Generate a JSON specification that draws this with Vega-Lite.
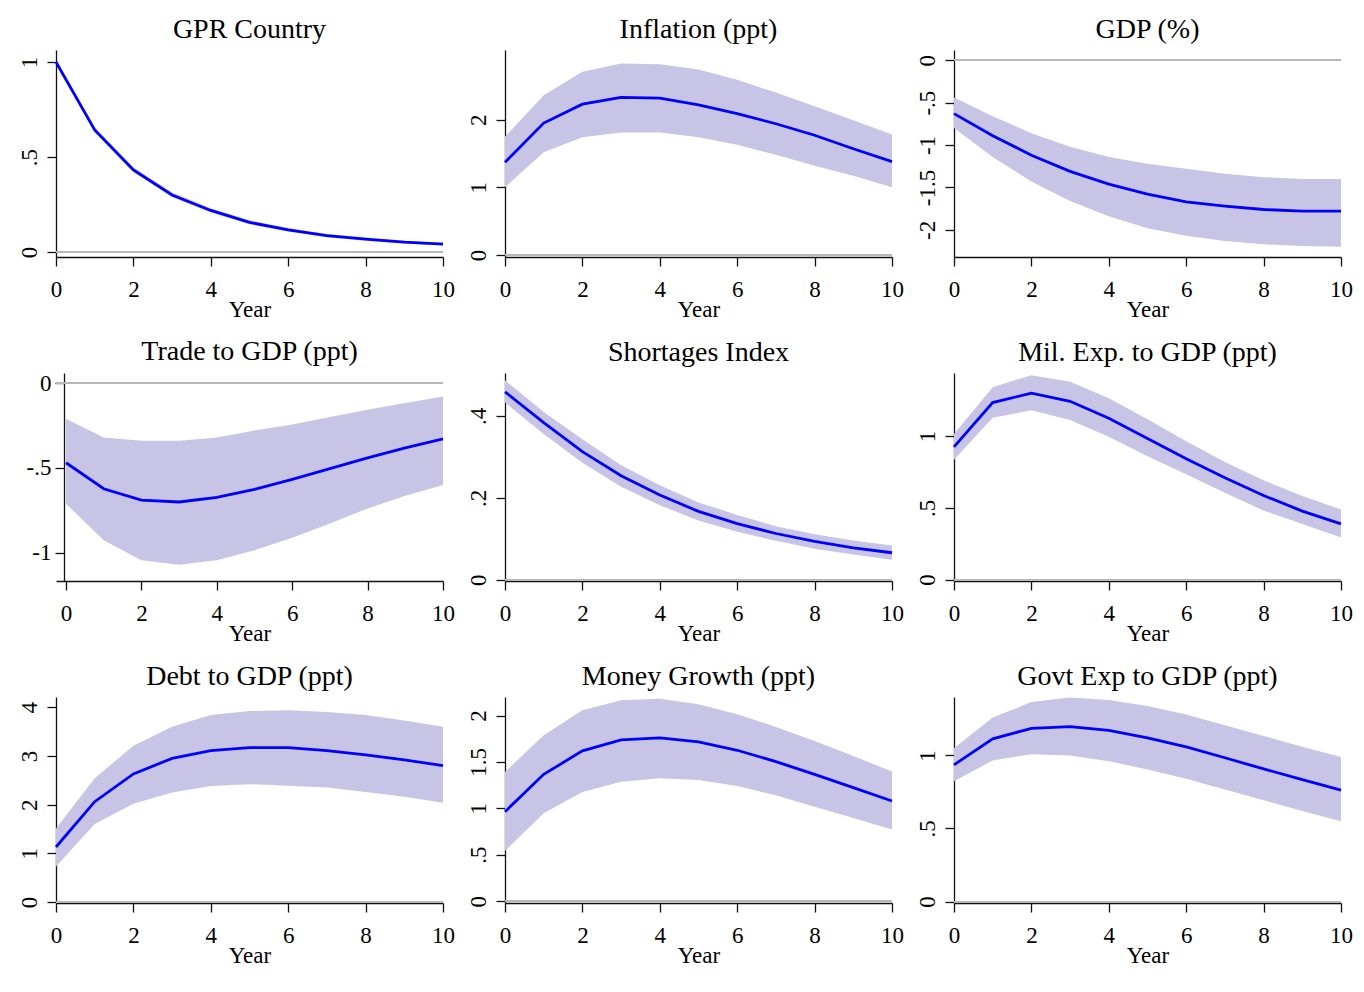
{
"$schema": "https://vega.github.io/schema/vega-lite/v6.json",
"padding": {"left": 18, "top": 16, "right": 5, "bottom": 5},
"background": "white",
"data": {"values": [
{"p":"gpr","year":0,"b":1.0,"lo":0.998,"hi":1.002},
{"p":"gpr","year":1,"b":0.642,"lo":0.630,"hi":0.655},
{"p":"gpr","year":2,"b":0.432,"lo":0.420,"hi":0.446},
{"p":"gpr","year":3,"b":0.300,"lo":0.289,"hi":0.313},
{"p":"gpr","year":4,"b":0.219,"lo":0.208,"hi":0.231},
{"p":"gpr","year":5,"b":0.156,"lo":0.146,"hi":0.167},
{"p":"gpr","year":6,"b":0.117,"lo":0.108,"hi":0.127},
{"p":"gpr","year":7,"b":0.086,"lo":0.078,"hi":0.095},
{"p":"gpr","year":8,"b":0.068,"lo":0.060,"hi":0.076},
{"p":"gpr","year":9,"b":0.052,"lo":0.045,"hi":0.060},
{"p":"gpr","year":10,"b":0.042,"lo":0.036,"hi":0.049},
{"p":"inf","year":0,"b":1.37,"lo":1.00,"hi":1.75},
{"p":"inf","year":1,"b":1.95,"lo":1.52,"hi":2.36},
{"p":"inf","year":2,"b":2.23,"lo":1.74,"hi":2.71},
{"p":"inf","year":3,"b":2.33,"lo":1.81,"hi":2.83},
{"p":"inf","year":4,"b":2.32,"lo":1.81,"hi":2.82},
{"p":"inf","year":5,"b":2.22,"lo":1.74,"hi":2.74},
{"p":"inf","year":6,"b":2.09,"lo":1.63,"hi":2.59},
{"p":"inf","year":7,"b":1.94,"lo":1.48,"hi":2.40},
{"p":"inf","year":8,"b":1.77,"lo":1.32,"hi":2.20},
{"p":"inf","year":9,"b":1.57,"lo":1.17,"hi":1.99},
{"p":"inf","year":10,"b":1.38,"lo":1.00,"hi":1.78},
{"p":"gdp","year":0,"b":-0.63,"lo":-0.80,"hi":-0.44},
{"p":"gdp","year":1,"b":-0.89,"lo":-1.14,"hi":-0.66},
{"p":"gdp","year":2,"b":-1.12,"lo":-1.43,"hi":-0.86},
{"p":"gdp","year":3,"b":-1.31,"lo":-1.66,"hi":-1.02},
{"p":"gdp","year":4,"b":-1.46,"lo":-1.84,"hi":-1.14},
{"p":"gdp","year":5,"b":-1.58,"lo":-1.98,"hi":-1.22},
{"p":"gdp","year":6,"b":-1.67,"lo":-2.07,"hi":-1.28},
{"p":"gdp","year":7,"b":-1.72,"lo":-2.13,"hi":-1.34},
{"p":"gdp","year":8,"b":-1.76,"lo":-2.17,"hi":-1.38},
{"p":"gdp","year":9,"b":-1.78,"lo":-2.19,"hi":-1.40},
{"p":"gdp","year":10,"b":-1.78,"lo":-2.20,"hi":-1.40},
{"p":"trd","year":0,"b":-0.469,"lo":-0.71,"hi":-0.21},
{"p":"trd","year":1,"b":-0.622,"lo":-0.925,"hi":-0.32},
{"p":"trd","year":2,"b":-0.689,"lo":-1.043,"hi":-0.34},
{"p":"trd","year":3,"b":-0.70,"lo":-1.07,"hi":-0.34},
{"p":"trd","year":4,"b":-0.673,"lo":-1.043,"hi":-0.32},
{"p":"trd","year":5,"b":-0.626,"lo":-0.984,"hi":-0.28},
{"p":"trd","year":6,"b":-0.567,"lo":-0.91,"hi":-0.244},
{"p":"trd","year":7,"b":-0.504,"lo":-0.827,"hi":-0.20},
{"p":"trd","year":8,"b":-0.441,"lo":-0.738,"hi":-0.157},
{"p":"trd","year":9,"b":-0.382,"lo":-0.663,"hi":-0.118},
{"p":"trd","year":10,"b":-0.329,"lo":-0.60,"hi":-0.079},
{"p":"sho","year":0,"b":0.459,"lo":0.433,"hi":0.487},
{"p":"sho","year":1,"b":0.384,"lo":0.356,"hi":0.41},
{"p":"sho","year":2,"b":0.313,"lo":0.286,"hi":0.343},
{"p":"sho","year":3,"b":0.254,"lo":0.227,"hi":0.28},
{"p":"sho","year":4,"b":0.207,"lo":0.182,"hi":0.231},
{"p":"sho","year":5,"b":0.167,"lo":0.145,"hi":0.189},
{"p":"sho","year":6,"b":0.137,"lo":0.117,"hi":0.158},
{"p":"sho","year":7,"b":0.113,"lo":0.095,"hi":0.131},
{"p":"sho","year":8,"b":0.094,"lo":0.076,"hi":0.111},
{"p":"sho","year":9,"b":0.078,"lo":0.062,"hi":0.096},
{"p":"sho","year":10,"b":0.066,"lo":0.049,"hi":0.084},
{"p":"mil","year":0,"b":0.925,"lo":0.836,"hi":1.014},
{"p":"mil","year":1,"b":1.234,"lo":1.128,"hi":1.341},
{"p":"mil","year":2,"b":1.30,"lo":1.18,"hi":1.425},
{"p":"mil","year":3,"b":1.243,"lo":1.112,"hi":1.379},
{"p":"mil","year":4,"b":1.124,"lo":0.995,"hi":1.264},
{"p":"mil","year":5,"b":0.984,"lo":0.86,"hi":1.117},
{"p":"mil","year":6,"b":0.843,"lo":0.734,"hi":0.965},
{"p":"mil","year":7,"b":0.71,"lo":0.605,"hi":0.82},
{"p":"mil","year":8,"b":0.586,"lo":0.481,"hi":0.692},
{"p":"mil","year":9,"b":0.477,"lo":0.388,"hi":0.582},
{"p":"mil","year":10,"b":0.388,"lo":0.294,"hi":0.488},
{"p":"dbt","year":0,"b":1.13,"lo":0.73,"hi":1.51},
{"p":"dbt","year":1,"b":2.06,"lo":1.60,"hi":2.54},
{"p":"dbt","year":2,"b":2.63,"lo":2.02,"hi":3.21},
{"p":"dbt","year":3,"b":2.95,"lo":2.25,"hi":3.60},
{"p":"dbt","year":4,"b":3.11,"lo":2.38,"hi":3.84},
{"p":"dbt","year":5,"b":3.17,"lo":2.42,"hi":3.92},
{"p":"dbt","year":6,"b":3.17,"lo":2.39,"hi":3.94},
{"p":"dbt","year":7,"b":3.11,"lo":2.35,"hi":3.90},
{"p":"dbt","year":8,"b":3.02,"lo":2.26,"hi":3.84},
{"p":"dbt","year":9,"b":2.92,"lo":2.16,"hi":3.73},
{"p":"dbt","year":10,"b":2.80,"lo":2.04,"hi":3.60},
{"p":"mon","year":0,"b":0.964,"lo":0.54,"hi":1.392},
{"p":"mon","year":1,"b":1.367,"lo":0.946,"hi":1.788},
{"p":"mon","year":2,"b":1.619,"lo":1.176,"hi":2.058},
{"p":"mon","year":3,"b":1.737,"lo":1.288,"hi":2.165},
{"p":"mon","year":4,"b":1.759,"lo":1.324,"hi":2.18},
{"p":"mon","year":5,"b":1.716,"lo":1.306,"hi":2.122},
{"p":"mon","year":6,"b":1.626,"lo":1.241,"hi":2.014},
{"p":"mon","year":7,"b":1.504,"lo":1.14,"hi":1.878},
{"p":"mon","year":8,"b":1.367,"lo":1.018,"hi":1.727},
{"p":"mon","year":9,"b":1.223,"lo":0.896,"hi":1.565},
{"p":"mon","year":10,"b":1.079,"lo":0.773,"hi":1.396},
{"p":"gov","year":0,"b":0.936,"lo":0.824,"hi":1.05},
{"p":"gov","year":1,"b":1.114,"lo":0.966,"hi":1.259},
{"p":"gov","year":2,"b":1.185,"lo":1.009,"hi":1.366},
{"p":"gov","year":3,"b":1.197,"lo":1.0,"hi":1.396},
{"p":"gov","year":4,"b":1.172,"lo":0.961,"hi":1.38},
{"p":"gov","year":5,"b":1.121,"lo":0.904,"hi":1.339},
{"p":"gov","year":6,"b":1.059,"lo":0.84,"hi":1.281},
{"p":"gov","year":7,"b":0.984,"lo":0.767,"hi":1.206},
{"p":"gov","year":8,"b":0.908,"lo":0.693,"hi":1.133},
{"p":"gov","year":9,"b":0.835,"lo":0.62,"hi":1.059},
{"p":"gov","year":10,"b":0.762,"lo":0.549,"hi":0.989}
]},
"bounds": "flush",
"columns": 3,
"spacing": {"row": 116, "column": 62},
"concat": [
{"title": "GPR Country", "width": 387, "height": 207, "transform": [{"filter": "datum.p == 'gpr'"}],
 "layer": [
  {"mark": {"type": "rule", "color": "#b8b8b8", "strokeWidth": 1.2}, "encoding": {"y": {"datum": 0, "type": "quantitative", "scale": {"domain": [-0.026, 1.063], "nice": false, "zero": false}, "axis": {"title": null, "values": [0, 0.5, 1], "labelAngle": 270, "labelPadding": 6, "labelExpr": "(datum.value < 0 ? '-' : '') + replace(toString(abs(datum.value)), regexp('^0[.]'), '.')"}}}},
  {"mark": {"type": "area", "color": "#c7c4e6", "opacity": 1}, "encoding": {"x": {"field": "year", "type": "quantitative", "scale": {"domain": [0, 10], "nice": false}, "axis": {"title": "Year", "values": [0, 2, 4, 6, 8, 10], "labelPadding": 12, "titlePadding": -3, "labelFlush": false}}, "y": {"field": "lo", "type": "quantitative"}, "y2": {"field": "hi"}}},
  {"mark": {"type": "line", "color": "#0000ff", "strokeWidth": 2.8}, "encoding": {"x": {"field": "year", "type": "quantitative"}, "y": {"field": "b", "type": "quantitative"}}}
 ]},
{"title": "Inflation (ppt)", "width": 387, "height": 207, "transform": [{"filter": "datum.p == 'inf'"}],
 "layer": [
  {"mark": {"type": "rule", "color": "#b8b8b8", "strokeWidth": 1.2}, "encoding": {"y": {"datum": 0, "type": "quantitative", "scale": {"domain": [-0.03, 3.03], "nice": false, "zero": false}, "axis": {"title": null, "values": [0, 1, 2], "labelAngle": 270, "labelPadding": 6, "labelExpr": "(datum.value < 0 ? '-' : '') + replace(toString(abs(datum.value)), regexp('^0[.]'), '.')"}}}},
  {"mark": {"type": "area", "color": "#c7c4e6", "opacity": 1}, "encoding": {"x": {"field": "year", "type": "quantitative", "scale": {"domain": [0, 10], "nice": false}, "axis": {"title": "Year", "values": [0, 2, 4, 6, 8, 10], "labelPadding": 12, "titlePadding": -3, "labelFlush": false}}, "y": {"field": "lo", "type": "quantitative"}, "y2": {"field": "hi"}}},
  {"mark": {"type": "line", "color": "#0000ff", "strokeWidth": 2.8}, "encoding": {"x": {"field": "year", "type": "quantitative"}, "y": {"field": "b", "type": "quantitative"}}}
 ]},
{"title": "GDP (%)", "width": 387, "height": 207, "transform": [{"filter": "datum.p == 'gdp'"}],
 "layer": [
  {"mark": {"type": "rule", "color": "#b8b8b8", "strokeWidth": 1.2}, "encoding": {"y": {"datum": 0, "type": "quantitative", "scale": {"domain": [-2.32, 0.12], "nice": false, "zero": false}, "axis": {"title": null, "values": [-2, -1.5, -1, -0.5, 0], "labelAngle": 270, "labelPadding": 6, "labelExpr": "(datum.value < 0 ? '-' : '') + replace(toString(abs(datum.value)), regexp('^0[.]'), '.')"}}}},
  {"mark": {"type": "area", "color": "#c7c4e6", "opacity": 1}, "encoding": {"x": {"field": "year", "type": "quantitative", "scale": {"domain": [0, 10], "nice": false}, "axis": {"title": "Year", "values": [0, 2, 4, 6, 8, 10], "labelPadding": 12, "titlePadding": -3, "labelFlush": false}}, "y": {"field": "lo", "type": "quantitative"}, "y2": {"field": "hi"}}},
  {"mark": {"type": "line", "color": "#0000ff", "strokeWidth": 2.8}, "encoding": {"x": {"field": "year", "type": "quantitative"}, "y": {"field": "b", "type": "quantitative"}}}
 ]},
{"title": "Trade to GDP (ppt)", "width": 387, "height": 208, "transform": [{"filter": "datum.p == 'trd'"}],
 "layer": [
  {"mark": {"type": "rule", "color": "#b8b8b8", "strokeWidth": 1.2}, "encoding": {"y": {"datum": 0, "type": "quantitative", "scale": {"domain": [-1.165, 0.059], "nice": false, "zero": false}, "axis": {"title": null, "values": [-1, -0.5, 0], "labelAngle": 0, "labelPadding": 4, "offset": -8, "labelExpr": "(datum.value < 0 ? '-' : '') + replace(toString(abs(datum.value)), regexp('^0[.]'), '.')"}}}},
  {"mark": {"type": "area", "color": "#c7c4e6", "opacity": 1}, "encoding": {"x": {"field": "year", "type": "quantitative", "scale": {"domain": [-0.265, 10], "nice": false, "zero": false}, "axis": {"title": "Year", "values": [0, 2, 4, 6, 8, 10], "labelPadding": 12, "titlePadding": -3, "labelFlush": false}}, "y": {"field": "lo", "type": "quantitative"}, "y2": {"field": "hi"}}},
  {"mark": {"type": "line", "color": "#0000ff", "strokeWidth": 2.8}, "encoding": {"x": {"field": "year", "type": "quantitative"}, "y": {"field": "b", "type": "quantitative"}}}
 ]},
{"title": "Shortages Index", "width": 387, "height": 208, "transform": [{"filter": "datum.p == 'sho'"}],
 "layer": [
  {"mark": {"type": "rule", "color": "#b8b8b8", "strokeWidth": 1.2}, "encoding": {"y": {"datum": 0, "type": "quantitative", "scale": {"domain": [-0.003, 0.505], "nice": false, "zero": false}, "axis": {"title": null, "values": [0, 0.2, 0.4], "labelAngle": 270, "labelPadding": 6, "labelExpr": "(datum.value < 0 ? '-' : '') + replace(toString(abs(datum.value)), regexp('^0[.]'), '.')"}}}},
  {"mark": {"type": "area", "color": "#c7c4e6", "opacity": 1}, "encoding": {"x": {"field": "year", "type": "quantitative", "scale": {"domain": [0, 10], "nice": false}, "axis": {"title": "Year", "values": [0, 2, 4, 6, 8, 10], "labelPadding": 12, "titlePadding": -3, "labelFlush": false}}, "y": {"field": "lo", "type": "quantitative"}, "y2": {"field": "hi"}}},
  {"mark": {"type": "line", "color": "#0000ff", "strokeWidth": 2.8}, "encoding": {"x": {"field": "year", "type": "quantitative"}, "y": {"field": "b", "type": "quantitative"}}}
 ]},
{"title": "Mil. Exp. to GDP (ppt)", "width": 387, "height": 208, "transform": [{"filter": "datum.p == 'mil'"}],
 "layer": [
  {"mark": {"type": "rule", "color": "#b8b8b8", "strokeWidth": 1.2}, "encoding": {"y": {"datum": 0, "type": "quantitative", "scale": {"domain": [-0.01, 1.44], "nice": false, "zero": false}, "axis": {"title": null, "values": [0, 0.5, 1], "labelAngle": 270, "labelPadding": 6, "labelExpr": "(datum.value < 0 ? '-' : '') + replace(toString(abs(datum.value)), regexp('^0[.]'), '.')"}}}},
  {"mark": {"type": "area", "color": "#c7c4e6", "opacity": 1}, "encoding": {"x": {"field": "year", "type": "quantitative", "scale": {"domain": [0, 10], "nice": false}, "axis": {"title": "Year", "values": [0, 2, 4, 6, 8, 10], "labelPadding": 12, "titlePadding": -3, "labelFlush": false}}, "y": {"field": "lo", "type": "quantitative"}, "y2": {"field": "hi"}}},
  {"mark": {"type": "line", "color": "#0000ff", "strokeWidth": 2.8}, "encoding": {"x": {"field": "year", "type": "quantitative"}, "y": {"field": "b", "type": "quantitative"}}}
 ]},
{"title": "Debt to GDP (ppt)", "width": 387, "height": 206, "transform": [{"filter": "datum.p == 'dbt'"}],
 "layer": [
  {"mark": {"type": "rule", "color": "#b8b8b8", "strokeWidth": 1.2}, "encoding": {"y": {"datum": 0, "type": "quantitative", "scale": {"domain": [-0.02, 4.21], "nice": false, "zero": false}, "axis": {"title": null, "values": [0, 1, 2, 3, 4], "labelAngle": 270, "labelPadding": 6, "labelExpr": "(datum.value < 0 ? '-' : '') + replace(toString(abs(datum.value)), regexp('^0[.]'), '.')"}}}},
  {"mark": {"type": "area", "color": "#c7c4e6", "opacity": 1}, "encoding": {"x": {"field": "year", "type": "quantitative", "scale": {"domain": [0, 10], "nice": false}, "axis": {"title": "Year", "values": [0, 2, 4, 6, 8, 10], "labelPadding": 12, "titlePadding": -3, "labelFlush": false}}, "y": {"field": "lo", "type": "quantitative"}, "y2": {"field": "hi"}}},
  {"mark": {"type": "line", "color": "#0000ff", "strokeWidth": 2.8}, "encoding": {"x": {"field": "year", "type": "quantitative"}, "y": {"field": "b", "type": "quantitative"}}}
 ]},
{"title": "Money Growth (ppt)", "width": 387, "height": 206, "transform": [{"filter": "datum.p == 'mon'"}],
 "layer": [
  {"mark": {"type": "rule", "color": "#b8b8b8", "strokeWidth": 1.2}, "encoding": {"y": {"datum": 0, "type": "quantitative", "scale": {"domain": [-0.02, 2.2], "nice": false, "zero": false}, "axis": {"title": null, "values": [0, 0.5, 1, 1.5, 2], "labelAngle": 270, "labelPadding": 6, "labelExpr": "(datum.value < 0 ? '-' : '') + replace(toString(abs(datum.value)), regexp('^0[.]'), '.')"}}}},
  {"mark": {"type": "area", "color": "#c7c4e6", "opacity": 1}, "encoding": {"x": {"field": "year", "type": "quantitative", "scale": {"domain": [0, 10], "nice": false}, "axis": {"title": "Year", "values": [0, 2, 4, 6, 8, 10], "labelPadding": 12, "titlePadding": -3, "labelFlush": false}}, "y": {"field": "lo", "type": "quantitative"}, "y2": {"field": "hi"}}},
  {"mark": {"type": "line", "color": "#0000ff", "strokeWidth": 2.8}, "encoding": {"x": {"field": "year", "type": "quantitative"}, "y": {"field": "b", "type": "quantitative"}}}
 ]},
{"title": "Govt Exp to GDP (ppt)", "width": 387, "height": 206, "transform": [{"filter": "datum.p == 'gov'"}],
 "layer": [
  {"mark": {"type": "rule", "color": "#b8b8b8", "strokeWidth": 1.2}, "encoding": {"y": {"datum": 0, "type": "quantitative", "scale": {"domain": [-0.01, 1.40], "nice": false, "zero": false}, "axis": {"title": null, "values": [0, 0.5, 1], "labelAngle": 270, "labelPadding": 6, "labelExpr": "(datum.value < 0 ? '-' : '') + replace(toString(abs(datum.value)), regexp('^0[.]'), '.')"}}}},
  {"mark": {"type": "area", "color": "#c7c4e6", "opacity": 1}, "encoding": {"x": {"field": "year", "type": "quantitative", "scale": {"domain": [0, 10], "nice": false}, "axis": {"title": "Year", "values": [0, 2, 4, 6, 8, 10], "labelPadding": 12, "titlePadding": -3, "labelFlush": false}}, "y": {"field": "lo", "type": "quantitative"}, "y2": {"field": "hi"}}},
  {"mark": {"type": "line", "color": "#0000ff", "strokeWidth": 2.8}, "encoding": {"x": {"field": "year", "type": "quantitative"}, "y": {"field": "b", "type": "quantitative"}}}
 ]}
],
"config": {
 "view": {"stroke": null},
 "font": "Liberation Serif",
 "axis": {"grid": false, "domainColor": "#111", "tickColor": "#111", "labelColor": "#000", "titleColor": "#000", "labelFont": "Liberation Serif", "titleFont": "Liberation Serif", "labelFontSize": 23, "titleFontSize": 23, "titleFontWeight": "normal", "tickSize": 9, "domainWidth": 1.3, "tickWidth": 1.3},
 "title": {"font": "Liberation Serif", "fontSize": 28, "fontWeight": "normal", "color": "#000", "offset": 6}
}
}
